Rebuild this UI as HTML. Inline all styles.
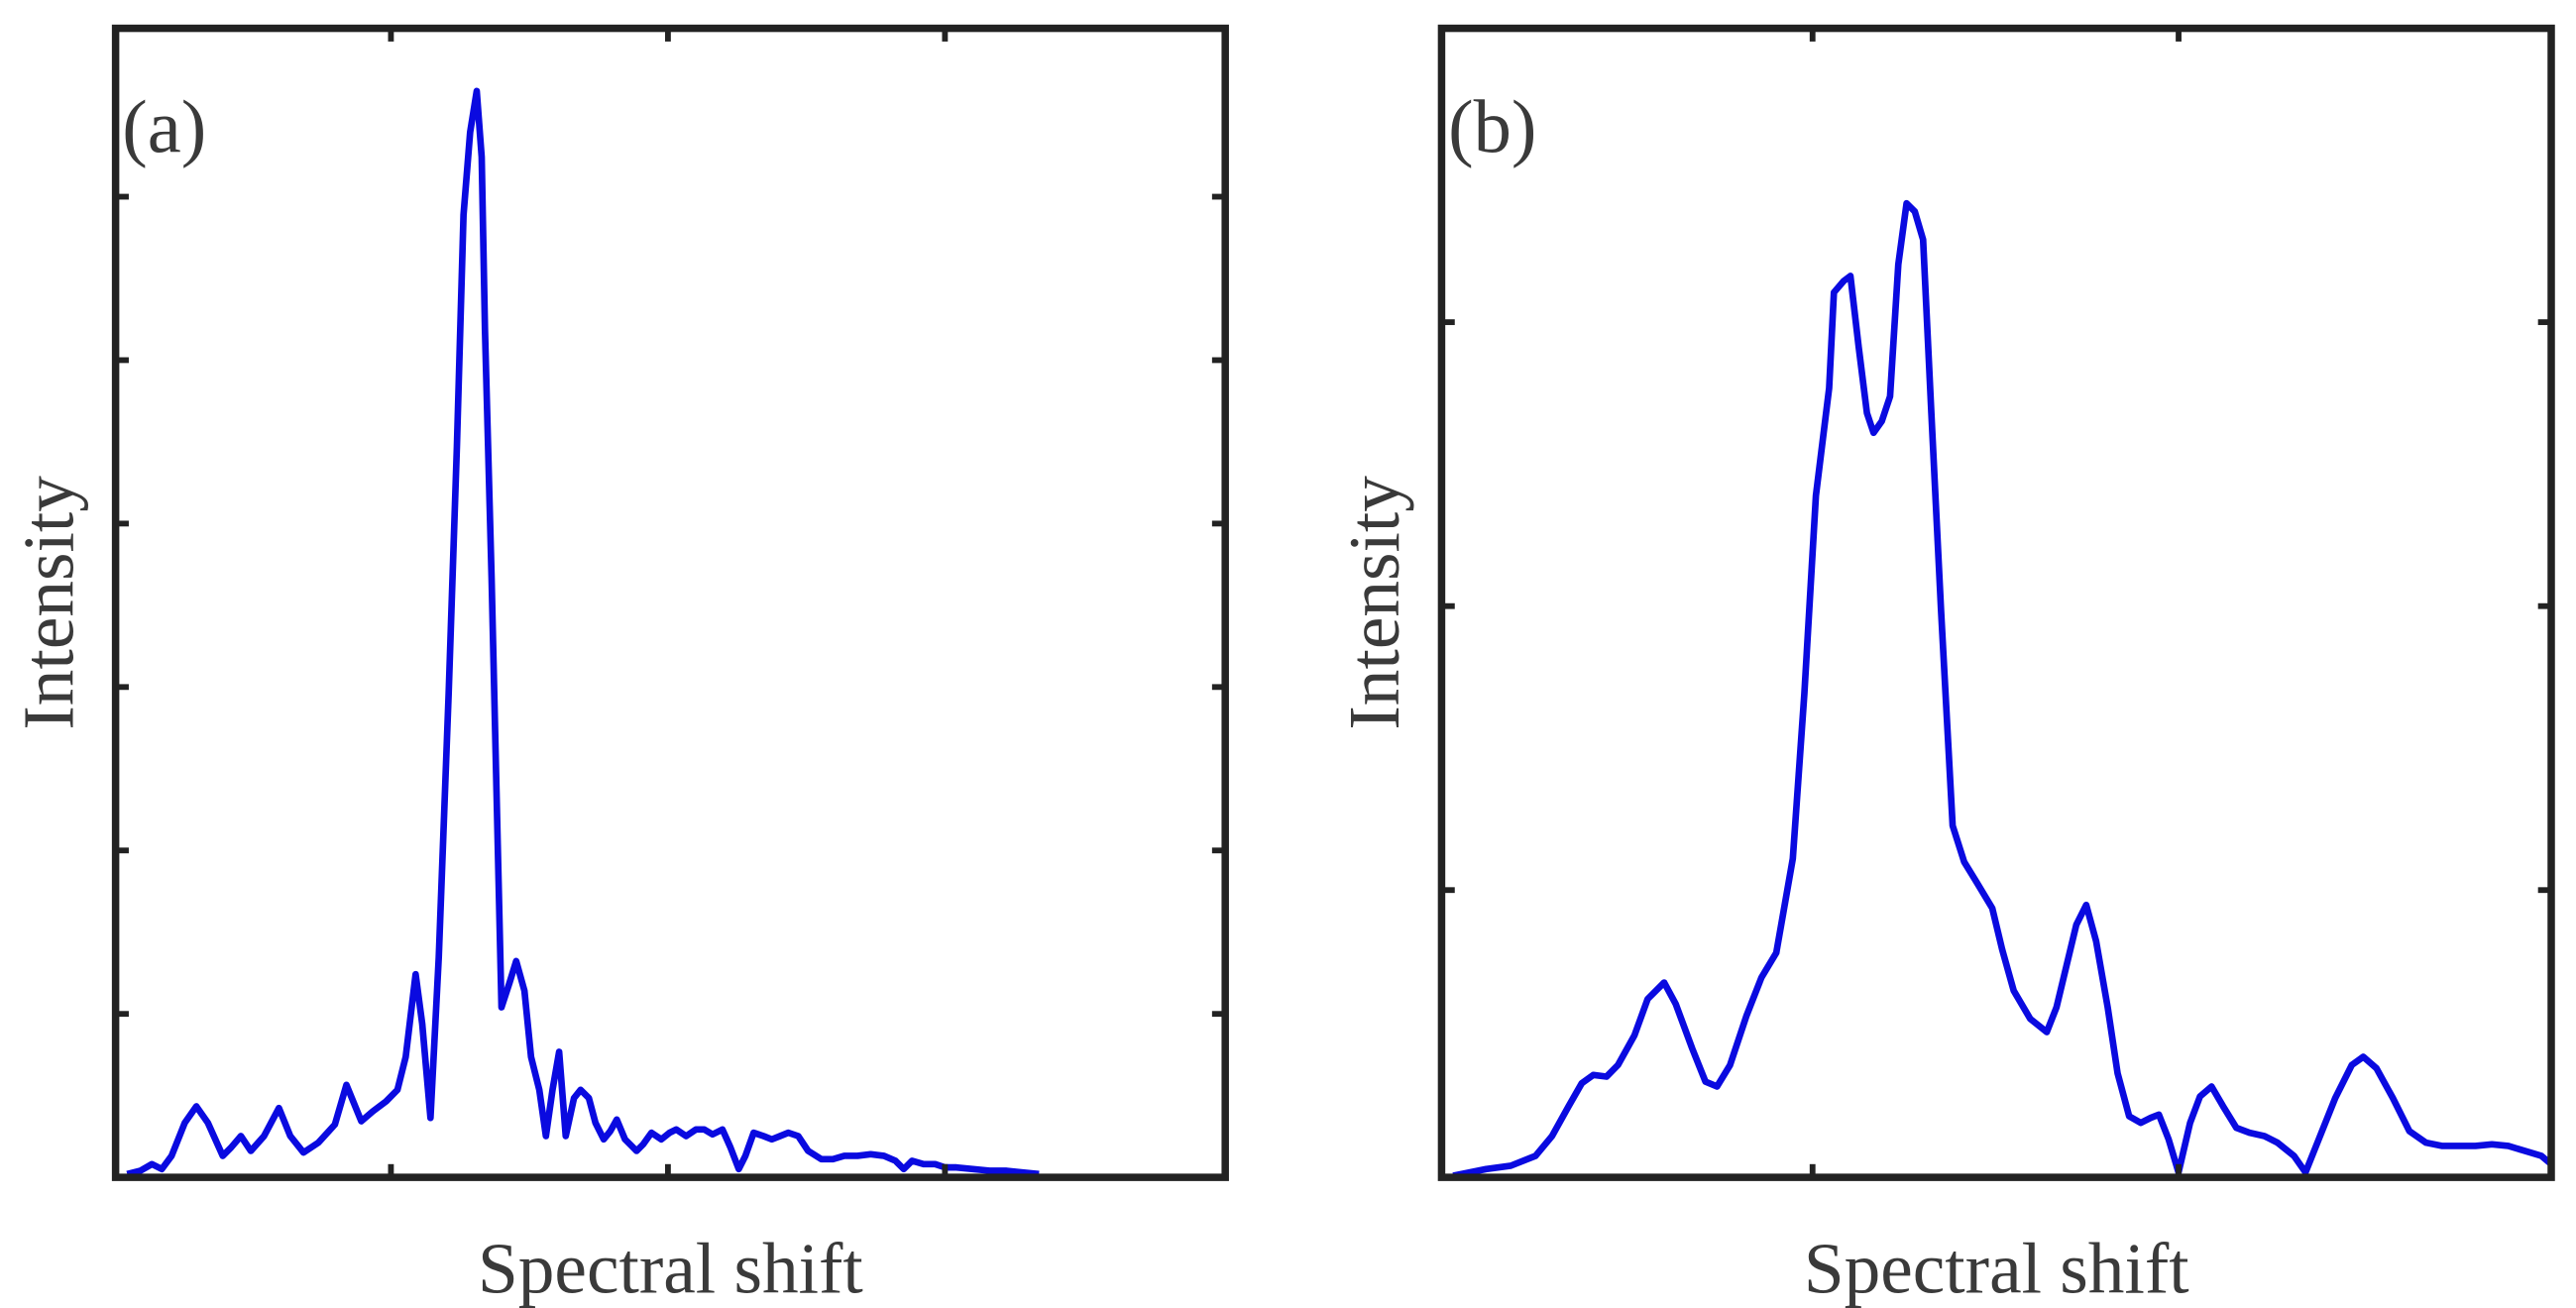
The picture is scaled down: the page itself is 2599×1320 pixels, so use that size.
<!DOCTYPE html>
<html><head><meta charset="utf-8"><style>
html,body{margin:0;padding:0;background:#fff;}
svg{display:block;}
text{font-family:"Liberation Serif",serif;fill:#3a3a3a;}
</style></head><body>
<svg id="fig" width="2599" height="1320" viewBox="0 0 1560 792" xmlns="http://www.w3.org/2000/svg"></svg>
<script>
// Panel (a) data (arbitrary units)
const shiftA = [7,15,22,28,34,42,49,56,65,70,76,82,90,99,106,114,123,133,140,149,156,164,171,176,182,186,191,196,202,207,211,215,219,222,224,228,231,234,239,243,248,252,257,261,265,269,273,278,282,287,291,296,300,304,309,316,320,325,331,336,340,346,352,357,362,368,373,378,382,387,393,398,403,408,414,420,428,435,442,450,458,466,473,478,483,490,497,503,510,520,530,540,550,560];
const intensityA = [2,4,8,5,13,33,43,33,13,18,25,16,25,42,25,15,21,32,56,34,40,46,53,73,123,93,36,133,293,443,583,633,658,618,513,363,233,103,118,131,113,73,53,25,53,76,25,48,53,48,33,23,28,35,23,16,20,27,23,27,29,25,29,29,26,29,18,5,13,27,25,23,25,27,25,16,11,11,13,13,14,13,10,5,10,8,8,6,6,5,4,4,3,2];
const xTicksA = [167,335,503];
const yTicksA = [99,198,297,396,495,594];
// Panel (b) data
const shiftB = [7,17,27,42,57,67,77,85,92,100,107,117,125,135,142,152,160,167,175,185,194,203,213,220,227,235,238,244,248,253,258,262,267,272,277,282,287,292,297,303,310,317,325,334,340,347,357,367,373,379,385,391,397,404,410,417,424,430,435,441,447,454,460,467,474,482,490,499,507,517,524,532,542,552,559,567,577,587,597,607,617,627,637,647,657,667,673];
const intensityB = [1,3,5,7,13,25,43,57,62,61,68,86,108,118,105,78,58,55,68,98,121,136,193,293,413,478,536,543,546,503,463,451,458,473,553,590,585,568,463,343,213,191,178,163,138,113,96,88,103,128,153,165,143,103,63,37,33,36,38,23,3,33,49,55,43,30,27,25,21,13,3,23,48,68,73,66,48,28,21,19,19,19,20,19,16,13,8];
const xTicksB = [225,447];
const yTicksB = [174,346,518];

const NS="http://www.w3.org/2000/svg";
const svg=document.getElementById('fig');
function mk(tag,attrs,parent){const e=document.createElementNS(NS,tag);for(const k in attrs)e.setAttribute(k,attrs[k]);(parent||svg).appendChild(e);return e;}

function panel(id,left,shifts,ints,xt,yt,label){
  const top=17,bottom=713,right=left+672;
  const xMax=673,yMax=696;
  const sx=v=>left+v/xMax*(right-left);
  const sy=v=>bottom-v/yMax*(bottom-top);
  const g=mk('g',{});
  
  
  let d='';
  const n=Math.min(shifts.length,ints.length);
  for(let i=0;i<n;i++)d+=(i?'L':'M')+sx(shifts[i]).toFixed(1)+','+sy(ints[i]).toFixed(1);
  const line=mk('path',{d:d,fill:'none',stroke:'#0a0ae0','stroke-width':4,'stroke-linejoin':'round'},g);
  
  
  const tg=mk('g',{stroke:'#222','stroke-width':3.5},g);
  
  
  xt.forEach(v=>{const x=sx(v);mk('line',{x1:x,x2:x,y1:bottom,y2:bottom-8},tg);mk('line',{x1:x,x2:x,y1:top,y2:top+8},tg);});
  yt.forEach(v=>{const y=sy(v);mk('line',{x1:left,x2:left+8,y1:y,y2:y},tg);mk('line',{x1:right,x2:right-8,y1:y,y2:y},tg);});
  const fr=mk('rect',{x:left,y:top,width:right-left,height:bottom-top,fill:'none',stroke:'#222','stroke-width':4.5},g);
  
  
  const pl=mk('text',{x:left+4,y:92,'font-size':46},g);pl.textContent=label;
  
  
  const xl=mk('text',{x:(left+right)/2,y:783,'font-size':44,'text-anchor':'middle'},g);xl.textContent='Spectral shift';
  
  
  const yl=mk('text',{x:0,y:0,'font-size':44,'text-anchor':'middle',transform:'translate('+(left-26)+',365) rotate(-90)'},g);yl.textContent='Intensity';
  
  
}
panel('a',70,shiftA,intensityA,xTicksA,yTicksA,'(a)');
panel('b',873,shiftB,intensityB,xTicksB,yTicksB,'(b)');
</script>
</body></html>
